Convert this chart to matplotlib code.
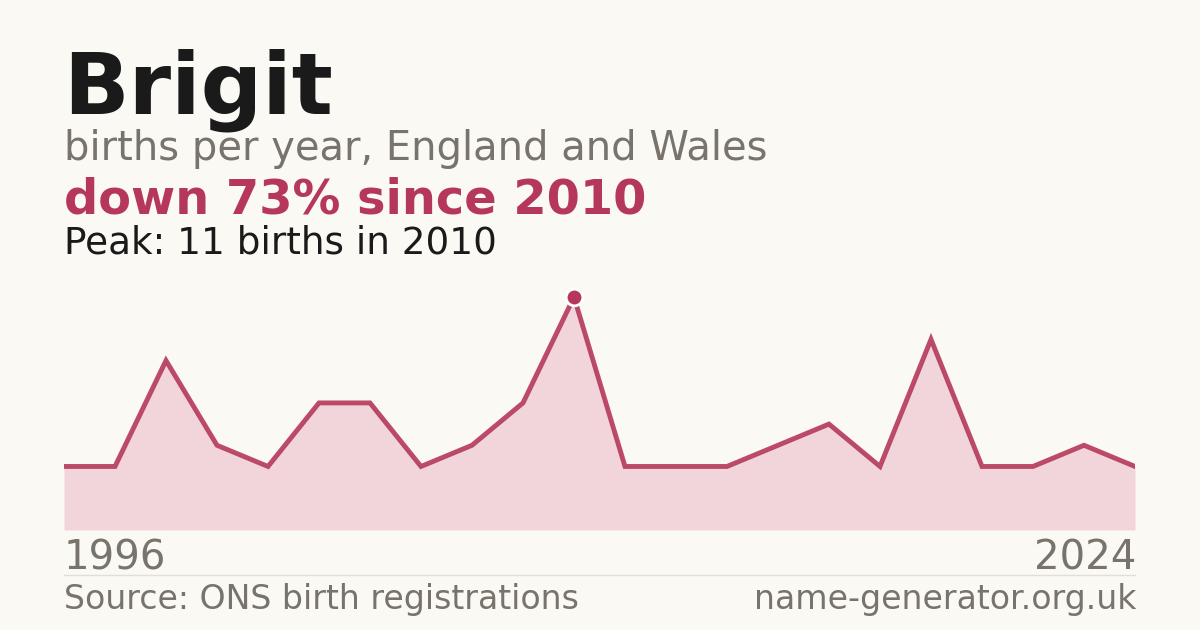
import matplotlib
matplotlib.use("Agg")
import matplotlib.pyplot as plt
import numpy as np

# ---- data ----
name = "Brigit"
years = [1996, 1997, 1998, 1999, 2000, 2001, 2002, 2004, 2006, 2008, 2010,
         2011, 2012, 2013, 2015, 2016, 2018, 2019, 2020, 2021, 2023, 2024]
births = [3, 3, 8, 4, 3, 6, 6, 3, 4, 6, 11,
          3, 3, 3, 4, 5, 3, 9, 3, 3, 4, 3]
subtitle = "births per year, England and Wales"
headline = "down 73% since 2010"
peak_text = "Peak: 11 births in 2010"
source_text = "Source: ONS birth registrations"
site_text = "name-generator.org.uk"

BG = "#faf9f4"
RED = "#b5385a"
FILL = "#f1d5db"
GREY = "#78736b"
DARK = "#1a1a1a"

W, H = 1200, 630
fig = plt.figure(figsize=(W / 100, H / 100), dpi=100, facecolor=BG)
plt.rcParams['font.family'] = ['DejaVu Sans']

def px(x, y):
    return x / W, 1 - y / H

# axes: x 64..1135, y 274..530
left, right, top, bottom = 64, 1135, 273.7, 530
ax = fig.add_axes([left / W, 1 - bottom / H, (right - left) / W, (bottom - top) / H])
ax.set_facecolor(BG)
x = np.arange(len(years))
ax.fill_between(x, births, 0, color=FILL, lw=0)
ax.plot(x, births, color=RED, lw=3.5, solid_joinstyle='miter', alpha=0.9)
pk = int(np.argmax(births))
ax.plot([x[pk]], [births[pk]], 'o', color=RED, ms=12, mec='white', mew=2, zorder=5)
ax.set_xlim(0, len(years) - 1)
ax.set_ylim(0, max(births) * 1.1)
ax.axis('off')

# texts
fig.text(*px(63, 113), name, fontsize=62, fontweight='bold', color=DARK, va='baseline', ha='left')
fig.text(*px(64, 160), subtitle, fontsize=28.8, color=GREY, va='baseline', ha='left')
fig.text(*px(64, 214), headline, fontsize=34.5, fontweight='bold', color=RED, va='baseline', ha='left')
fig.text(*px(64, 254), peak_text, fontsize=26.9, color=DARK, va='baseline', ha='left')

fig.text(*px(64, 570), str(years[0]), fontsize=29, color=GREY, va='baseline', ha='left')
fig.text(*px(1136, 570), str(years[-1]), fontsize=29, color=GREY, va='baseline', ha='right')

fig.add_artist(plt.Line2D([64 / W, 1135 / W], [1 - 574.5 / H, 1 - 574.5 / H],
                          color="#e3dfd6", lw=1, transform=fig.transFigure))

fig.text(*px(64, 609), source_text, fontsize=23.9, color=GREY, va='baseline', ha='left')
fig.text(*px(1136, 609), site_text, fontsize=23.9, color=GREY, va='baseline', ha='right')

fig.savefig("out.png", dpi=100, facecolor=BG)
